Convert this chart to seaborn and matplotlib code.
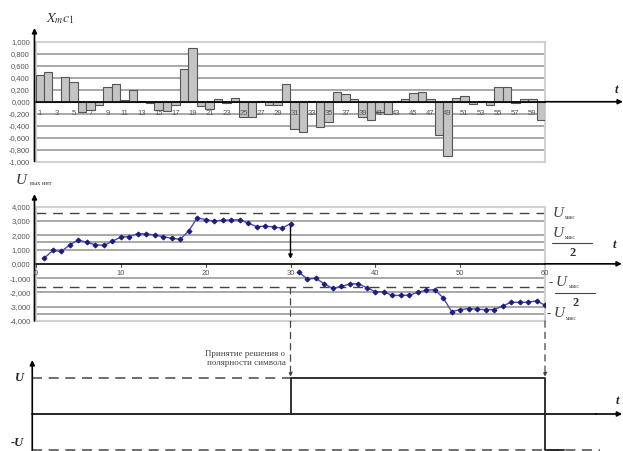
import pandas as pd
import seaborn as sns
import matplotlib.pyplot as plt
from matplotlib.patches import ConnectionPatch

sns.set_style("white")
plt.rcParams["font.family"] = ["Liberation Sans", "DejaVu Sans"]
plt.rcParams["mathtext.fontset"] = "stix"

# correlator output per chip
chip_n = list(range(1, 61))
chip_xc = [0.45, 0.50, -0.01, 0.42, 0.33, -0.17, -0.14, -0.05, 0.25, 0.29,
           0.03, 0.19, 0.01, -0.02, -0.14, -0.16, -0.05, 0.55, 0.90, -0.07,
           -0.12, 0.05, -0.02, 0.06, -0.25, -0.25, 0.01, -0.05, -0.06, 0.30,
           -0.45, -0.51, 0.01, -0.42, -0.34, 0.16, 0.13, 0.04, -0.26, -0.30,
           -0.17, -0.20, 0.01, 0.04, 0.14, 0.17, 0.05, -0.56, -0.91, 0.06,
           0.09, -0.04, 0.01, -0.05, 0.24, 0.24, -0.02, 0.04, 0.04, -0.30]
bar_ticks = list(range(1, 61, 2))
bar_yticks = [1.0, 0.8, 0.6, 0.4, 0.2, 0.0, -0.2, -0.4, -0.6, -0.8, -1.0]

# integrator output
int_n = list(range(1, 61))
int_u = [0.42, 0.94, 0.87, 1.34, 1.67, 1.50, 1.34, 1.29, 1.58, 1.88,
         1.90, 2.12, 2.09, 2.02, 1.90, 1.79, 1.72, 2.30, 3.22, 3.10,
         2.99, 3.06, 3.06, 3.10, 2.85, 2.61, 2.63, 2.59, 2.49, 2.82,
         -0.60, -1.06, -1.01, -1.41, -1.72, -1.58, -1.41, -1.39, -1.67, -1.95,
         -1.95, -2.21, -2.21, -2.19, -2.00, -1.84, -1.81, -2.38, -3.34, -3.20,
         -3.13, -3.18, -3.20, -3.20, -2.96, -2.68, -2.70, -2.68, -2.59, -2.89]
int_period = [1] * 30 + [2] * 30
int_xticks = [0, 10, 20, 30, 40, 50, 60]
int_yticks = [4, 3, 2, 1, 0, -1, -2, -3, -4]
dashed_levels = [3.55, -1.6]
extra_levels = [1.55, -3.5]

# decisions
decision_t = [30, 60]
decision_u = [1, -1]

W, H = 623, 451
fig = plt.figure(figsize=(W / 100, H / 100), dpi=100)

grid_c = "#9a9a9a"
frame_c = "#d0d0d0"
tick_c = "#555555"
serif = ["Liberation Serif", "DejaVu Serif"]


def frame(ax):
    for s in ax.spines.values():
        s.set_color(frame_c)
        s.set_linewidth(1.5)


def arrow(ax, xy0, xy1, trans):
    ax.annotate("", xy=xy1, xytext=xy0, xycoords=trans, textcoords=trans,
                arrowprops=dict(arrowstyle="-|>", color="black", lw=1.2,
                                mutation_scale=7, shrinkA=0, shrinkB=0),
                annotation_clip=False)


# ---- top panel: bars
ax1 = fig.add_axes([35.5 / W, 1 - 161.5 / H, 509.5 / W, 119.5 / H])
df1 = pd.DataFrame({"n": chip_n, "xc": chip_xc})
sns.barplot(data=df1, x="n", y="xc", native_scale=True, width=1.0,
            color="#c4c4c4", edgecolor="#555555", linewidth=0.8,
            saturation=1, ax=ax1, zorder=3)
ax1.set_xlim(0.5, 60.5)
ax1.set_ylim(-1, 1)
frame(ax1)
for v in bar_yticks[1:-1]:
    ax1.axhline(v, color=grid_c, lw=1.2, zorder=1)
ax1.set_yticks(bar_yticks)
ax1.set_yticklabels([f"{v:.3f}".replace(".", ",") for v in bar_yticks])
ax1.set_xticks([])
for k in bar_ticks:
    ax1.text(k, -0.2, str(k), ha="center", va="center", fontsize=5.5,
             color=tick_c, zorder=4)
ax1.tick_params(axis="y", length=0, pad=4, labelsize=5.5, labelcolor=tick_c)
ax1.set_xlabel("")
ax1.set_ylabel("")
ax1.plot([0, 1], [0, 0], transform=ax1.get_yaxis_transform(), color="black",
         lw=1.2, zorder=5, clip_on=False)
arrow(ax1, (1.0, 0), (1.153, 0), ax1.get_yaxis_transform())
arrow(ax1, (-0.002, 0), (-0.002, 1.117), ax1.transAxes)
ax1.text(1.14, 0.2, "t", transform=ax1.get_yaxis_transform(), fontsize=9,
         family=serif, style="italic", weight="bold", ha="center", va="center")
ax1.text(0.02, 1.2, r"$X_{m}c_{1}$", transform=ax1.transAxes, fontsize=10,
         ha="left", va="center", color="#333333")

# ---- middle panel: integrator
ax2 = fig.add_axes([36 / W, 1 - 321 / H, 509 / W, 114.3 / H])
df2 = pd.DataFrame({"n": int_n, "u": int_u, "period": int_period})
sns.lineplot(data=df2, x="n", y="u", units="period", estimator=None,
             color="#4a4ab8", lw=1.0, marker="D", markersize=2.5,
             markeredgecolor="#1c1c80", markerfacecolor="#1c1c80",
             ax=ax2, zorder=4)
ax2.set_xlim(0, 60)
ax2.set_ylim(-4, 4)
frame(ax2)
for v in int_yticks[1:-1]:
    if v != 0:
        ax2.axhline(v, color=grid_c, lw=1.2, zorder=1)
for v in extra_levels:
    ax2.axhline(v, color=grid_c, lw=1.2, zorder=1)
for v in dashed_levels:
    ax2.axhline(v, color="#444444", lw=1.0, ls=(0, (7, 5)), zorder=2)
ax2.set_yticks(int_yticks)
ax2.set_yticklabels([f"{v:.3f}".replace(".", ",") for v in int_yticks])
ax2.set_xticks([])
for k in int_xticks:
    ax2.plot([k, k], [0, -0.2], color=tick_c, lw=0.8, zorder=5)
    ax2.text(k, -0.65, str(k), ha="center", va="center", fontsize=5.5,
             color=tick_c, zorder=5)
ax2.tick_params(axis="y", length=0, pad=4, labelsize=5.5, labelcolor=tick_c)
ax2.set_xlabel("")
ax2.set_ylabel("")
ax2.plot([0, 1], [0, 0], transform=ax2.get_yaxis_transform(), color="black",
         lw=1.2, zorder=5, clip_on=False)
arrow(ax2, (1.0, 0), (1.151, 0), ax2.get_yaxis_transform())
arrow(ax2, (-0.003, 0), (-0.003, 1.11), ax2.transAxes)
ax2.text(1.136, 1.3, "t", transform=ax2.get_yaxis_transform(), fontsize=9,
         family=serif, style="italic", weight="bold", ha="center", va="center")
ax2.text(-0.04, 1.23, "U", transform=ax2.transAxes, fontsize=11,
         family=serif, style="italic", ha="left", va="center", color="#333333")
ax2.text(-0.012, 1.2, "вых инт", transform=ax2.transAxes, fontsize=4.5,
         family=serif, ha="left", va="center", color="#333333")
# reset arrow at decision point
ax2.annotate("", xy=(30, 0.35), xytext=(30, int_u[29]),
             arrowprops=dict(arrowstyle="-|>", color="black", lw=1.0,
                             mutation_scale=6, shrinkA=0, shrinkB=0))

# threshold labels on the right
ytr = ax2.transData


def umax(x, y, half=False, minus=False):
    if minus:
        ax2.text(x - 0.35, y, "-", fontsize=9, family=serif, color="#444444",
                 ha="right", va="center", transform=ytr, clip_on=False)
    ax2.text(x, y, "U", fontsize=11, family=serif, style="italic",
             color="#444444", ha="left", va="center", transform=ytr, clip_on=False)
    ax2.text(x + 1.5, y - 0.3, "макс", fontsize=4, family=serif,
             color="#444444", ha="left", va="center", transform=ytr, clip_on=False)
    if half:
        ax2.plot([x - 0.1, x + 4.6], [y - 0.72, y - 0.72], color="#444444",
                 lw=0.8, clip_on=False)
        ax2.text(x + 2.3, y - 1.4, "2", fontsize=9, family=serif, weight="bold",
                 color="#333333", ha="center", va="center", transform=ytr,
                 clip_on=False)


umax(60.9, dashed_levels[0])
umax(60.9, extra_levels[0] + 0.6, half=True)
umax(61.3, dashed_levels[1] + 0.28, half=True, minus=True)
umax(61.0, extra_levels[1], minus=True)

# ---- bottom panel: decisions
ax3 = fig.add_axes([36 / W, 0, 509 / W, 99 / H])
ax3.set_xlim(0, 60)
ax3.set_ylim(-1.014, 1.70)
ax3.axis("off")
step_t, step_u = [decision_t[0]], [0]
for t, u in zip(decision_t, decision_u):
    step_t += [t, t]
    step_u += [step_u[-1], u]
step_t.append(decision_t[-1] + 2.2)
step_u.append(decision_u[-1])
df3 = pd.DataFrame({"t": step_t, "u": step_u})
ax3.plot(df3["t"], df3["u"], color="#222222", lw=1.3, zorder=4, clip_on=False)
ax3.plot([-0.44, decision_t[0]], [1, 1], color="#555555", lw=1.2,
         ls=(0, (6, 4)), clip_on=False)
ax3.plot([-0.44, 66.5], [-1, -1], color="#555555", lw=1.2,
         ls=(0, (6, 4)), clip_on=False, zorder=2)
ax3.plot([-0.44, 66], [0, 0], color="black", lw=1.2, clip_on=False)
arrow(ax3, (66, 0), (69.1, 0), ax3.transData)
arrow(ax3, (-0.44, -1.014), (-0.44, 1.48), ax3.transData)
ax3.text(68.5, 0.36, "t", fontsize=9, family=serif, style="italic",
         weight="bold", ha="center", va="center")
ax3.text(-1.9, 1.0, "U", fontsize=9, family=serif, style="italic",
         weight="bold", ha="center", va="center", clip_on=False)
ax3.text(-2.2, -0.8, "-U", fontsize=9, family=serif, style="italic",
         weight="bold", ha="center", va="center", clip_on=False)
ax3.text(29.4, 1.52, "Принятие решения о\nполярности символа", fontsize=6.5,
         family=serif, color="#444444", ha="right", va="center",
         linespacing=1.2)

# dashed links from integrator to decisions
for t, y0 in zip(decision_t, [-1.65, -4.0]):
    con = ConnectionPatch(xyA=(t, y0), coordsA=ax2.transData,
                          xyB=(t, 1.02), coordsB=ax3.transData,
                          arrowstyle="-|>", color="#444444", lw=0.9,
                          ls=(0, (5, 4)), mutation_scale=6)
    fig.add_artist(con)

fig.savefig("out.png", dpi=100)
